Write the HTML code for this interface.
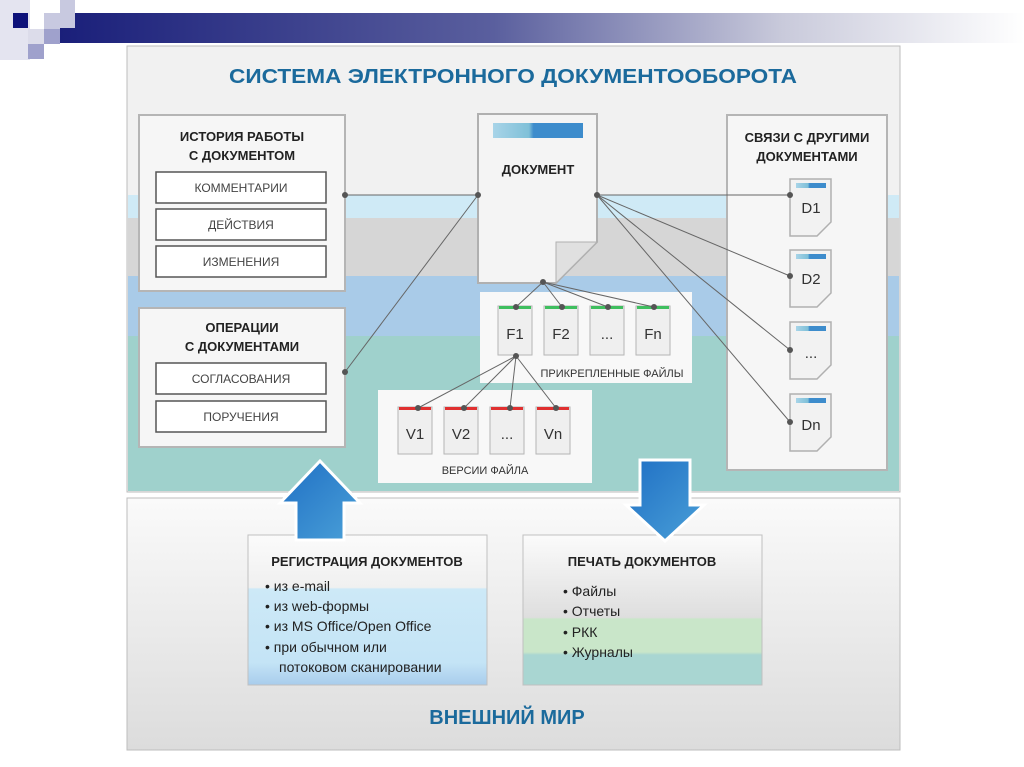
<!DOCTYPE html>
<html><head><meta charset="utf-8"><style>
html,body{margin:0;padding:0;background:#fff;}
svg{display:block;}
text{font-family:"Liberation Sans","DejaVu Sans",sans-serif;}
</style></head><body>
<svg width="1024" height="767" viewBox="0 0 1024 767" xmlns="http://www.w3.org/2000/svg">
<defs>
<linearGradient id="bar" x1="0" x2="1" y1="0" y2="0">
<stop offset="0" stop-color="#1a1f7a"/><stop offset="0.45" stop-color="#5a5f9e"/><stop offset="0.75" stop-color="#c9cadb"/><stop offset="1" stop-color="#ffffff"/>
</linearGradient>
<linearGradient id="low" x1="0" x2="0" y1="0" y2="1">
<stop offset="0" stop-color="#fafafa"/><stop offset="1" stop-color="#dcdcdc"/>
</linearGradient>
<linearGradient id="reg" x1="0" x2="0" y1="0" y2="1">
<stop offset="0" stop-color="#fbfbfb"/><stop offset="0.35" stop-color="#f0f0f0"/><stop offset="0.36" stop-color="#cde9f7"/><stop offset="0.85" stop-color="#c4e4f6"/><stop offset="1" stop-color="#a8ccec"/>
</linearGradient>
<linearGradient id="prn" x1="0" x2="0" y1="0" y2="1">
<stop offset="0" stop-color="#fbfbfb"/><stop offset="0.55" stop-color="#dedede"/><stop offset="0.56" stop-color="#c9e6c9"/><stop offset="0.78" stop-color="#c9e6c9"/><stop offset="0.8" stop-color="#a9d6d2"/><stop offset="1" stop-color="#a9d6d2"/>
</linearGradient>
<linearGradient id="arr" x1="0" x2="1" y1="0" y2="1">
<stop offset="0" stop-color="#1f6fc4"/><stop offset="1" stop-color="#4aa0d8"/>
</linearGradient>
<linearGradient id="dbar" x1="0" x2="1">
<stop offset="0" stop-color="#a8d4e8"/><stop offset="0.4" stop-color="#7fc0d8"/><stop offset="0.45" stop-color="#3d8ccc"/><stop offset="1" stop-color="#3d8ccc"/>
</linearGradient>
</defs>

<rect x="60" y="13" width="964" height="30" fill="url(#bar)"/>
<rect x="0" y="0" width="30" height="60" fill="#e4e4f0"/>
<rect x="13" y="13" width="15" height="15" fill="#0d117a"/>
<rect x="44" y="13" width="16" height="16" fill="#c8c9e0"/>
<rect x="60" y="0" width="15" height="28" fill="#c8c9e0"/>
<rect x="44" y="29" width="16" height="15" fill="#9fa1cc"/>
<rect x="28" y="29" width="16" height="15" fill="#dcdcea"/>
<rect x="28" y="44" width="16" height="15" fill="#9fa1cc"/>

<rect x="127" y="46" width="773" height="446" fill="#f1f1f1" stroke="#bdbdbd"/>
<rect x="128" y="195" width="771" height="23" fill="#cfeaf6"/>
<rect x="128" y="218" width="771" height="58" fill="#d6d6d6"/>
<rect x="128" y="276" width="771" height="60" fill="#a9cbe8"/>
<rect x="128" y="336" width="771" height="155" fill="#9fd1cc"/>
<text x="513" y="83" text-anchor="middle" font-size="20" font-weight="bold" fill="#1b6a9c" textLength="568" lengthAdjust="spacingAndGlyphs">СИСТЕМА ЭЛЕКТРОННОГО ДОКУМЕНТООБОРОТА</text>

<rect x="139" y="115" width="206" height="176" fill="#f6f6f6" stroke="#b5b5b5" stroke-width="2"/>
<text x="242" y="141" text-anchor="middle" font-size="13" font-weight="bold" fill="#222">ИСТОРИЯ РАБОТЫ</text>
<text x="242" y="160" text-anchor="middle" font-size="13" font-weight="bold" fill="#222">С ДОКУМЕНТОМ</text>
<rect x="139" y="308" width="206" height="139" fill="#f6f6f6" stroke="#b5b5b5" stroke-width="2"/>
<text x="242" y="332" text-anchor="middle" font-size="13" font-weight="bold" fill="#222">ОПЕРАЦИИ</text>
<text x="242" y="351" text-anchor="middle" font-size="13" font-weight="bold" fill="#222">С ДОКУМЕНТАМИ</text>
<g fill="#fff" stroke="#555" stroke-width="1.5">
<rect x="156" y="172" width="170" height="31"/><rect x="156" y="209" width="170" height="31"/><rect x="156" y="246" width="170" height="31"/>
<rect x="156" y="363" width="170" height="31"/><rect x="156" y="401" width="170" height="31"/>
</g>
<g font-size="12" fill="#444" text-anchor="middle">
<text x="241" y="192">КОММЕНТАРИИ</text><text x="241" y="229">ДЕЙСТВИЯ</text><text x="241" y="266">ИЗМЕНЕНИЯ</text>
<text x="241" y="383">СОГЛАСОВАНИЯ</text><text x="241" y="421">ПОРУЧЕНИЯ</text>
</g>

<path d="M478 114 H597 V242 L556 283 H478 Z" fill="#f4f4f4" stroke="#b0b0b0" stroke-width="2"/>
<path d="M556 283 V242 H597 Z" fill="#e0e0e0" stroke="#b0b0b0"/>
<rect x="493" y="123" width="90" height="15" fill="url(#dbar)"/>
<text x="538" y="174" text-anchor="middle" font-size="13" font-weight="bold" fill="#222">ДОКУМЕНТ</text>

<rect x="480" y="292" width="212" height="91" fill="#f8f8f8"/>
<text x="612" y="377" text-anchor="middle" font-size="11" fill="#333">ПРИКРЕПЛЕННЫЕ ФАЙЛЫ</text>
<rect x="378" y="390" width="214" height="93" fill="#f8f8f8"/>
<text x="485" y="474" text-anchor="middle" font-size="11" fill="#333">ВЕРСИИ ФАЙЛА</text>
<g stroke="#b5b5b5" fill="#efefef">
<rect x="498" y="306" width="34" height="49"/><rect x="544" y="306" width="34" height="49"/><rect x="590" y="306" width="34" height="49"/><rect x="636" y="306" width="34" height="49"/>
<rect x="398" y="407" width="34" height="47"/><rect x="444" y="407" width="34" height="47"/><rect x="490" y="407" width="34" height="47"/><rect x="536" y="407" width="34" height="47"/>
</g>
<g fill="#3fbf5f"><rect x="499" y="306" width="32" height="3"/><rect x="545" y="306" width="32" height="3"/><rect x="591" y="306" width="32" height="3"/><rect x="637" y="306" width="32" height="3"/></g>
<g fill="#e03030"><rect x="399" y="407" width="32" height="3"/><rect x="445" y="407" width="32" height="3"/><rect x="491" y="407" width="32" height="3"/><rect x="537" y="407" width="32" height="3"/></g>
<g font-size="15" fill="#333" text-anchor="middle">
<text x="515" y="339">F1</text><text x="561" y="339">F2</text><text x="607" y="339">...</text><text x="653" y="339">Fn</text>
<text x="415" y="439">V1</text><text x="461" y="439">V2</text><text x="507" y="439">...</text><text x="553" y="439">Vn</text>
</g>

<rect x="727" y="115" width="160" height="355" fill="#f6f6f6" stroke="#b5b5b5" stroke-width="2"/>
<text x="807" y="142" text-anchor="middle" font-size="13" font-weight="bold" fill="#222">СВЯЗИ С ДРУГИМИ</text>
<text x="807" y="161" text-anchor="middle" font-size="13" font-weight="bold" fill="#222">ДОКУМЕНТАМИ</text>
<g stroke="#b0b0b0" fill="#f2f2f2" stroke-width="1.5">
<path d="M790 179 H831 V222 L817 236 H790 Z"/><path d="M790 250 H831 V293 L817 307 H790 Z"/><path d="M790 322 H831 V365 L817 379 H790 Z"/><path d="M790 394 H831 V437 L817 451 H790 Z"/>
</g>
<g fill="url(#dbar)"><rect x="796" y="183" width="30" height="5"/><rect x="796" y="254" width="30" height="5"/><rect x="796" y="326" width="30" height="5"/><rect x="796" y="398" width="30" height="5"/></g>
<g font-size="15" fill="#333" text-anchor="middle">
<text x="811" y="213">D1</text><text x="811" y="284">D2</text><text x="811" y="358">...</text><text x="811" y="430">Dn</text>
</g>

<g stroke="#666" stroke-width="1" fill="none">
<line x1="345" y1="195" x2="478" y2="195"/>
<line x1="345" y1="372" x2="478" y2="195"/>
<line x1="597" y1="195" x2="790" y2="195"/>
<line x1="597" y1="195" x2="790" y2="276"/>
<line x1="597" y1="195" x2="790" y2="350"/>
<line x1="597" y1="195" x2="790" y2="422"/>
<line x1="543" y1="282" x2="516" y2="307"/><line x1="543" y1="282" x2="562" y2="307"/><line x1="543" y1="282" x2="608" y2="307"/><line x1="543" y1="282" x2="654" y2="307"/>
<line x1="516" y1="356" x2="418" y2="408"/><line x1="516" y1="356" x2="464" y2="408"/><line x1="516" y1="356" x2="510" y2="408"/><line x1="516" y1="356" x2="556" y2="408"/>
</g>
<g fill="#555">
<circle cx="345" cy="195" r="3"/><circle cx="478" cy="195" r="3"/><circle cx="345" cy="372" r="3"/><circle cx="597" cy="195" r="3"/>
<circle cx="790" cy="195" r="3"/><circle cx="790" cy="276" r="3"/><circle cx="790" cy="350" r="3"/><circle cx="790" cy="422" r="3"/>
<circle cx="543" cy="282" r="3"/><circle cx="516" cy="307" r="3"/><circle cx="562" cy="307" r="3"/><circle cx="608" cy="307" r="3"/><circle cx="654" cy="307" r="3"/>
<circle cx="516" cy="356" r="3"/><circle cx="418" cy="408" r="3"/><circle cx="464" cy="408" r="3"/><circle cx="510" cy="408" r="3"/><circle cx="556" cy="408" r="3"/>
</g>

<rect x="127" y="498" width="773" height="252" fill="url(#low)" stroke="#bdbdbd"/>
<rect x="248" y="535" width="239" height="150" fill="url(#reg)" stroke="#c0c0c0"/>
<rect x="523" y="535" width="239" height="150" fill="url(#prn)" stroke="#c0c0c0"/>
<text x="367" y="566" text-anchor="middle" font-size="13" font-weight="bold" fill="#222">РЕГИСТРАЦИЯ ДОКУМЕНТОВ</text>
<text x="642" y="566" text-anchor="middle" font-size="13" font-weight="bold" fill="#222">ПЕЧАТЬ ДОКУМЕНТОВ</text>
<g font-size="14" fill="#222">
<text x="265" y="591">• из e-mail</text>
<text x="265" y="611">• из web-формы</text>
<text x="265" y="631">• из MS Office/Open Office</text>
<text x="265" y="652">• при обычном или</text>
<text x="279" y="672">потоковом сканировании</text>
<text x="563" y="596">• Файлы</text>
<text x="563" y="616">• Отчеты</text>
<text x="563" y="637">• РКК</text>
<text x="563" y="657">• Журналы</text>
</g>
<text x="507" y="724" text-anchor="middle" font-size="20" font-weight="bold" fill="#1b6a9c">ВНЕШНИЙ МИР</text>

<path d="M320 461 L360 503 H344 V540 H296 V503 H280 Z" fill="url(#arr)" stroke="#fff" stroke-width="3"/>
<path d="M640 460 H690 V505 H704 L665 541 L626 505 H640 Z" fill="url(#arr)" stroke="#fff" stroke-width="3"/>
</svg>
</body></html>
